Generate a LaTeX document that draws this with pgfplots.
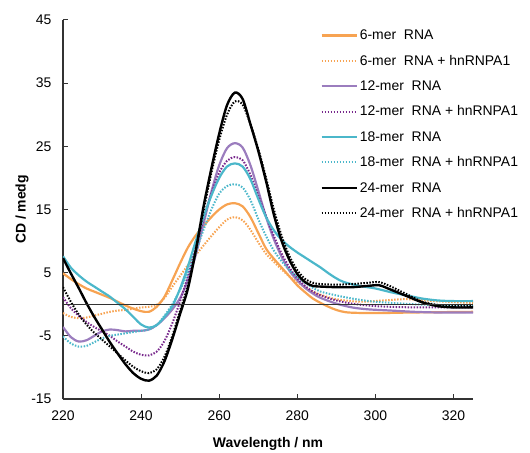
\documentclass[border=0pt]{standalone}
\usepackage{fontspec}
\setmainfont{Liberation Sans}
\usepackage{pgfplots}
\pgfplotsset{compat=1.18}
\definecolor{corange}{RGB}{247,163,82}
\definecolor{cpurple}{RGB}{155,125,190}
\definecolor{cpurpled}{RGB}{120,40,140}
\definecolor{ccyan}{RGB}{75,183,202}
\begin{document}
\begin{tikzpicture}
\begin{axis}[
  at={(0,0)}, anchor=south west,
  scale only axis, width=410bp, height=379bp,
  xmin=220, xmax=325, ymin=-15, ymax=45,
  xtick={220,240,...,320}, ytick={-15,-5,...,45},
  axis x line*=bottom, axis y line*=left,
  axis line style={-, line width=1.2bp, black!80},
  tick align=inside, major tick length=5bp,
  tick style={line width=1bp, black!80},
  /pgf/number format/assume math mode=true,
  ticklabel style={font=\fontsize{14}{16}\selectfont},
  yticklabel style={xshift=-8bp},
  xticklabel style={yshift=-8bp},
  xlabel={\textbf{Wavelength / nm}}, ylabel={\textbf{CD / medg}},
  label style={font=\fontsize{14}{16}\selectfont},
  xlabel style={at={(axis description cs:0.5,-0.118)}, anchor=center},
  ylabel style={at={(axis description cs:-0.1,0.5)}, anchor=center},
  legend style={draw=none, fill=none, at={(rel axis cs:0.62,0.985)}, anchor=north west,
    font=\fontsize{14}{16}\selectfont, row sep=10bp},
  legend cell align=left,
  legend image code/.code={\draw[#1] (0bp,0bp) -- (35bp,0bp);},
  every axis plot/.append style={smooth, tension=0.5},
]
\addplot[corange, line width=2.2bp] coordinates {
(220,4.9)(222,4.0)(224,3.2)(226,2.5)(228,2.0)(230,1.5)(232,1.0)(234,0.4)(236,-0.2)(238,-0.7)(240,-1.1)(242,-1.2)(244,-0.4)(246,1.2)(248,3.8)(250,6.5)(252,9.0)(254,10.9)(256,12.4)(258,13.8)(260,15.0)(262,15.8)(264,16.0)(266,15.5)(268,13.8)(270,11.3)(272,8.8)(274,7.2)(276,5.8)(278,4.4)(280,3.0)(282,1.9)(284,0.9)(286,0.2)(288,-0.4)(290,-0.9)(293,-1.3)(300,-1.4)(310,-1.3)(325,-1.2)};
\addlegendentry{6-mer\ \ RNA}
\addplot[corange, line width=2bp, dash pattern=on 1.5bp off 1.5bp] coordinates {
(220,-1.4)(222,-2.0)(224,-2.2)(226,-2.1)(228,-1.8)(230,-1.5)(232,-1.2)(234,-1.0)(236,-0.9)(238,-0.7)(240,-0.5)(242,-0.4)(244,-0.1)(246,1.0)(248,2.8)(250,4.5)(252,6.2)(254,7.8)(256,9.3)(258,10.8)(260,12.2)(262,13.4)(264,13.8)(266,13.3)(268,11.8)(270,9.8)(272,8.0)(274,6.7)(276,5.5)(278,4.4)(280,3.5)(282,2.7)(284,2.0)(286,1.5)(290,0.8)(296,0.4)(302,0.6)(308,0.8)(315,0.5)(325,0.2)};
\addlegendentry{6-mer\ \ RNA + hnRNPA1}
\addplot[cpurple, line width=2.2bp] coordinates {
(220,-3.6)(222,-5.2)(224,-5.9)(226,-5.7)(228,-5.0)(230,-4.3)(232,-4.0)(234,-4.1)(236,-4.3)(238,-4.2)(240,-4.2)(242,-4.0)(244,-3.3)(246,-2.2)(248,-0.8)(250,1.0)(252,3.8)(254,7.8)(256,12.8)(258,17.8)(260,22.0)(262,24.7)(264,25.5)(266,24.8)(268,22.0)(270,18.0)(272,13.8)(274,10.3)(276,7.5)(278,5.3)(280,3.8)(282,2.6)(284,1.7)(286,1.0)(290,0.1)(294,-0.5)(298,-0.8)(304,-1.0)(310,-1.2)(316,-1.3)(325,-1.3)};
\addlegendentry{12-mer\ \ RNA}
\addplot[cpurpled, line width=2bp, dash pattern=on 1.5bp off 1.5bp] coordinates {
(220,1.1)(222,-0.6)(224,-1.8)(226,-2.8)(228,-3.6)(230,-4.3)(232,-5.0)(234,-5.9)(236,-6.7)(238,-7.5)(240,-8.0)(242,-8.1)(244,-7.5)(246,-5.8)(248,-3.0)(250,0.5)(252,4.5)(254,9.0)(256,13.5)(258,17.5)(260,20.8)(262,22.7)(264,23.3)(266,22.8)(268,20.5)(270,17.2)(272,14.0)(274,10.8)(276,8.0)(278,5.8)(280,4.1)(282,2.9)(284,2.0)(286,1.4)(290,0.6)(294,0.1)(300,-0.3)(310,-0.5)(325,-0.5)};
\addlegendentry{12-mer\ \ RNA + hnRNPA1}
\addplot[ccyan, line width=2.2bp] coordinates {
(220,7.6)(222,5.8)(224,4.6)(226,3.6)(228,2.8)(230,2.0)(232,1.2)(234,0.2)(236,-0.8)(238,-2.0)(240,-3.2)(242,-3.7)(244,-3.3)(246,-2.0)(248,-0.3)(250,2.5)(252,6.0)(254,10.0)(256,13.8)(258,17.2)(260,20.0)(262,21.8)(264,22.3)(266,21.8)(268,19.8)(270,16.7)(272,13.8)(274,11.7)(276,10.2)(278,9.1)(280,8.2)(282,7.4)(284,6.6)(286,5.8)(288,4.9)(290,4.1)(292,3.5)(296,2.9)(300,2.5)(304,1.9)(308,1.4)(312,0.9)(316,0.6)(320,0.5)(325,0.5)};
\addlegendentry{18-mer\ \ RNA}
\addplot[ccyan, line width=2bp, dash pattern=on 1.5bp off 1.5bp] coordinates {
(220,-5.1)(222,-6.2)(224,-6.7)(226,-6.6)(228,-6.0)(230,-5.4)(232,-5.0)(234,-4.8)(236,-4.6)(238,-4.4)(240,-4.2)(242,-4.0)(244,-3.3)(246,-1.8)(248,0.0)(250,2.3)(252,5.0)(254,8.3)(256,11.8)(258,15.0)(260,17.5)(262,18.7)(264,19.0)(266,18.5)(268,16.5)(270,13.5)(272,10.8)(274,8.5)(276,6.8)(278,5.4)(280,4.3)(282,3.4)(284,2.6)(286,2.0)(290,1.4)(295,0.8)(300,0.4)(310,0.0)(320,-0.2)(325,-0.2)};
\addlegendentry{18-mer\ \ RNA + hnRNPA1}
\addplot[black, line width=2.4bp] coordinates {
(220,7.3)(222,4.9)(224,2.6)(226,0.2)(228,-2.0)(230,-4.0)(232,-6.0)(234,-7.8)(236,-9.5)(238,-10.9)(240,-11.8)(242,-12.1)(244,-11.3)(246,-9.0)(248,-5.5)(250,-1.5)(252,2.5)(254,8.5)(256,15.5)(258,21.5)(260,27.0)(262,31.5)(264,33.5)(266,32.5)(268,28.5)(270,24.3)(272,19.5)(274,14.2)(276,10.0)(278,7.0)(280,4.8)(282,3.5)(284,2.9)(286,2.8)(290,2.7)(294,2.7)(298,2.9)(301,3.0)(304,2.3)(308,1.3)(312,0.3)(316,-0.3)(320,-0.5)(325,-0.5)};
\addlegendentry{24-mer\ \ RNA}
\addplot[black, line width=2bp, dash pattern=on 1.5bp off 1.5bp] coordinates {
(220,2.7)(222,0.4)(224,-1.6)(226,-3.2)(228,-4.5)(230,-5.6)(232,-6.7)(234,-7.8)(236,-8.9)(238,-9.9)(240,-10.6)(242,-10.9)(244,-10.3)(246,-8.3)(248,-5.0)(250,-1.0)(252,3.0)(254,8.5)(256,14.8)(258,20.8)(260,26.0)(262,30.0)(264,32.1)(266,31.6)(268,28.5)(270,24.6)(272,20.0)(274,15.0)(276,10.8)(278,7.6)(280,5.4)(282,4.0)(284,3.4)(286,3.2)(290,3.1)(294,3.2)(298,3.4)(301,3.5)(304,2.8)(308,1.6)(312,0.4)(316,-0.1)(320,-0.3)(325,-0.3)};
\addlegendentry{24-mer\ \ RNA + hnRNPA1}
\addplot[black!80, line width=1.1bp, sharp plot, forget plot] coordinates {(220,0)(325,0)};
\end{axis}
\pgfresetboundingbox
\path[use as bounding box] (-63bp,-54bp) rectangle (467bp,399bp);
\end{tikzpicture}
\end{document}
